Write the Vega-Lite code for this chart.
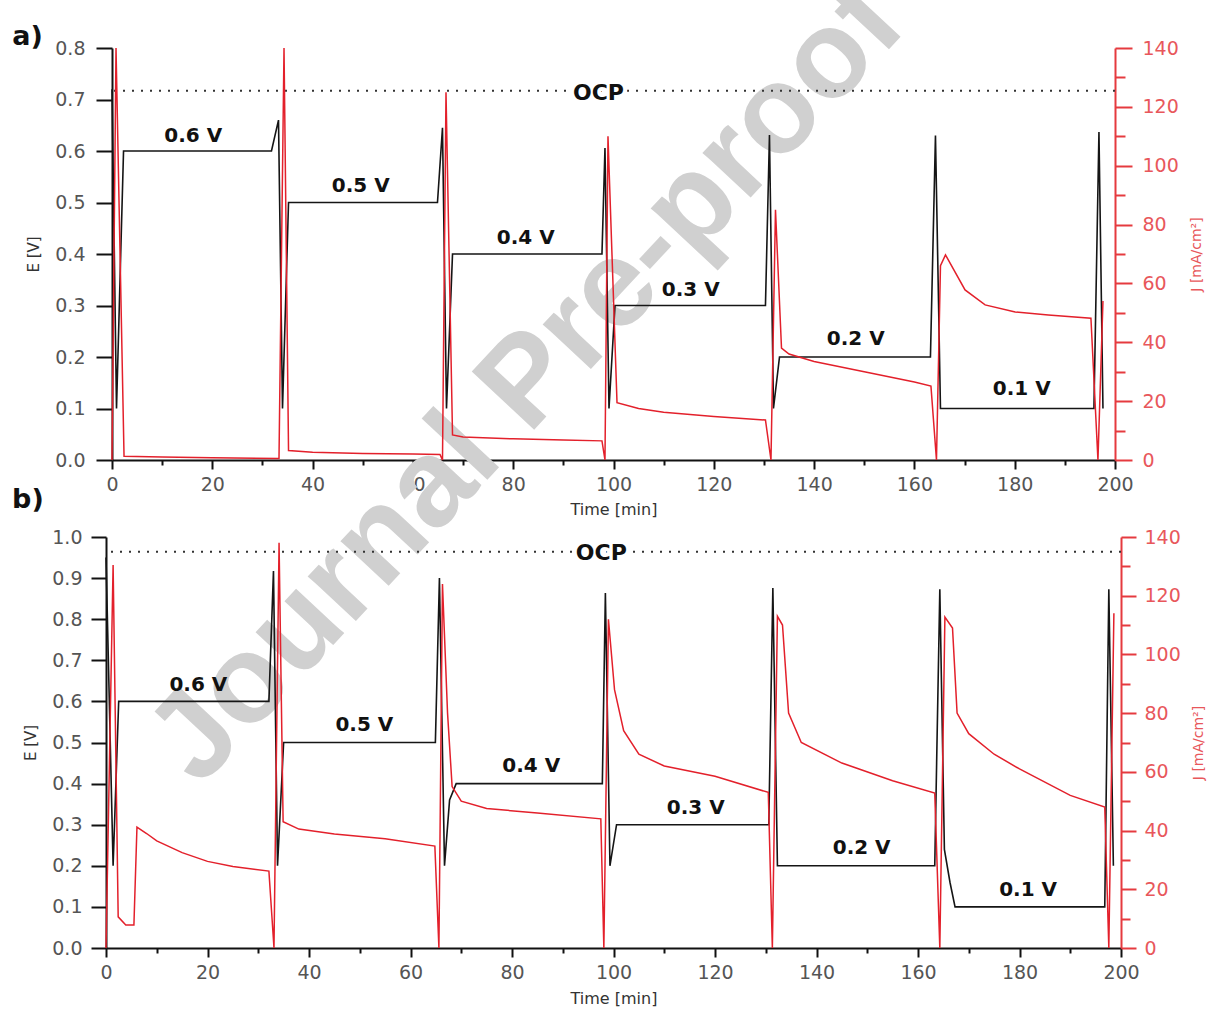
{
  "$schema": "https://vega.github.io/schema/vega-lite/v6.json",
  "background": "white",
  "padding": {"left": 12, "top": -40, "right": 5, "bottom": 5},
  "config": {
    "view": {"stroke": null},
    "axis": {"grid": false, "labelFont": "DejaVu Sans", "titleFont": "DejaVu Sans", "titleFontWeight": "normal", "labelOverlap": false, "labelFlush": false}
  },
  "datasets": {
    "ea": [
      {"t": 0, "E": 0.72}, {"t": 0.9, "E": 0.1}, {"t": 2.3, "E": 0.6}, {"t": 31.8, "E": 0.6}, {"t": 33.2, "E": 0.66}, {"t": 34.0, "E": 0.1}, {"t": 35.2, "E": 0.5},
      {"t": 64.9, "E": 0.5}, {"t": 65.9, "E": 0.645}, {"t": 66.7, "E": 0.1}, {"t": 67.9, "E": 0.4},
      {"t": 97.7, "E": 0.4}, {"t": 98.3, "E": 0.606}, {"t": 99.1, "E": 0.1}, {"t": 100.3, "E": 0.3},
      {"t": 130.3, "E": 0.3}, {"t": 131.1, "E": 0.631}, {"t": 131.9, "E": 0.1}, {"t": 133.1, "E": 0.2},
      {"t": 163.2, "E": 0.2}, {"t": 164.2, "E": 0.63}, {"t": 165.2, "E": 0.1},
      {"t": 195.8, "E": 0.1}, {"t": 196.8, "E": 0.637}, {"t": 197.6, "E": 0.1}
    ],
    "ja": [
      {"t": 0, "J": 0}, {"t": 0.8, "J": 140}, {"t": 2.4, "J": 1.3}, {"t": 10, "J": 1.0}, {"t": 20, "J": 0.8}, {"t": 33.3, "J": 0.5},
      {"t": 34.3, "J": 140}, {"t": 35.2, "J": 3.2}, {"t": 40, "J": 2.6}, {"t": 50, "J": 2.2}, {"t": 60, "J": 2.0}, {"t": 65.4, "J": 1.9},
      {"t": 65.9, "J": 0}, {"t": 66.6, "J": 125}, {"t": 67.9, "J": 8.5}, {"t": 70, "J": 7.8}, {"t": 80, "J": 7.2}, {"t": 90, "J": 6.8}, {"t": 97.7, "J": 6.5},
      {"t": 98.3, "J": 0}, {"t": 98.9, "J": 110}, {"t": 100.7, "J": 19.5}, {"t": 105, "J": 17.5}, {"t": 110, "J": 16.2}, {"t": 120, "J": 14.8}, {"t": 130.3, "J": 13.6},
      {"t": 131.4, "J": 0}, {"t": 132.3, "J": 85}, {"t": 133.5, "J": 38}, {"t": 135, "J": 36}, {"t": 140, "J": 33.5}, {"t": 150, "J": 30}, {"t": 160, "J": 26.5}, {"t": 163.3, "J": 25.1},
      {"t": 164.4, "J": 0}, {"t": 165.2, "J": 66}, {"t": 166.2, "J": 69.7}, {"t": 170.1, "J": 57.8}, {"t": 174.1, "J": 52.7}, {"t": 180.1, "J": 50.3}, {"t": 186.7, "J": 49.3}, {"t": 195.2, "J": 48.2},
      {"t": 196.6, "J": 0}, {"t": 197.6, "J": 54}
    ],
    "eb": [
      {"t": 0, "E": 0.95}, {"t": 1.4, "E": 0.2}, {"t": 2.5, "E": 0.6}, {"t": 32.1, "E": 0.6}, {"t": 33.0, "E": 0.917}, {"t": 33.8, "E": 0.2}, {"t": 35.0, "E": 0.5},
      {"t": 64.9, "E": 0.5}, {"t": 65.7, "E": 0.9}, {"t": 66.7, "E": 0.2}, {"t": 67.7, "E": 0.36}, {"t": 69.0, "E": 0.4},
      {"t": 97.8, "E": 0.4}, {"t": 98.4, "E": 0.864}, {"t": 99.3, "E": 0.2}, {"t": 100.6, "E": 0.3},
      {"t": 130.6, "E": 0.3}, {"t": 131.4, "E": 0.876}, {"t": 132.3, "E": 0.2},
      {"t": 163.3, "E": 0.2}, {"t": 164.3, "E": 0.873}, {"t": 165.2, "E": 0.24}, {"t": 166.3, "E": 0.16}, {"t": 167.3, "E": 0.1},
      {"t": 196.8, "E": 0.1}, {"t": 197.6, "E": 0.873}, {"t": 198.5, "E": 0.2}
    ],
    "jb": [
      {"t": 0, "J": 0}, {"t": 1.4, "J": 130.5}, {"t": 2.4, "J": 10.6}, {"t": 3.9, "J": 7.8}, {"t": 5.5, "J": 7.8}, {"t": 6.1, "J": 41.2}, {"t": 8, "J": 39}, {"t": 10, "J": 36.5}, {"t": 15, "J": 32.5}, {"t": 20, "J": 29.5}, {"t": 25, "J": 27.8}, {"t": 32.1, "J": 26.2},
      {"t": 33.1, "J": 0}, {"t": 34.1, "J": 138}, {"t": 34.9, "J": 43}, {"t": 38, "J": 40.5}, {"t": 45, "J": 38.8}, {"t": 55, "J": 37.2}, {"t": 64.8, "J": 34.7},
      {"t": 65.6, "J": 0}, {"t": 66.3, "J": 124}, {"t": 67.3, "J": 80}, {"t": 68.2, "J": 55}, {"t": 70, "J": 50}, {"t": 75, "J": 47.5}, {"t": 85, "J": 46}, {"t": 97.5, "J": 44},
      {"t": 98.1, "J": 0}, {"t": 99.0, "J": 112}, {"t": 100.2, "J": 88}, {"t": 102, "J": 74}, {"t": 105, "J": 66}, {"t": 110, "J": 62}, {"t": 120, "J": 58.5}, {"t": 130.5, "J": 53},
      {"t": 131.3, "J": 0}, {"t": 132.3, "J": 113}, {"t": 133.3, "J": 110}, {"t": 134.5, "J": 80}, {"t": 137, "J": 70}, {"t": 145, "J": 63}, {"t": 155, "J": 57}, {"t": 163.3, "J": 52.8},
      {"t": 164.3, "J": 0}, {"t": 165.3, "J": 112.7}, {"t": 166.8, "J": 109}, {"t": 167.7, "J": 80}, {"t": 170, "J": 73}, {"t": 175, "J": 66}, {"t": 180, "J": 61}, {"t": 190, "J": 52}, {"t": 196.8, "J": 48},
      {"t": 197.6, "J": 0}, {"t": 198.6, "J": 114}
    ],
    "levels_a": [
      {"t": 16.2, "E": 0.630, "label": "0.6 V"}, {"t": 49.6, "E": 0.532, "label": "0.5 V"}, {"t": 82.5, "E": 0.431, "label": "0.4 V"},
      {"t": 115.4, "E": 0.330, "label": "0.3 V"}, {"t": 148.3, "E": 0.235, "label": "0.2 V"}, {"t": 181.4, "E": 0.137, "label": "0.1 V"}
    ],
    "levels_b": [
      {"t": 18.2, "E": 0.640, "label": "0.6 V"}, {"t": 50.9, "E": 0.543, "label": "0.5 V"}, {"t": 83.8, "E": 0.443, "label": "0.4 V"},
      {"t": 116.2, "E": 0.341, "label": "0.3 V"}, {"t": 148.9, "E": 0.243, "label": "0.2 V"}, {"t": 181.7, "E": 0.141, "label": "0.1 V"}
    ],
    "ocp_a": [{"t": 97.0, "E": 0.717, "label": "OCP"}],
    "ocp_b": [{"t": 97.6, "E": 0.964, "label": "OCP"}],
    "tag_a": [{"t": -19.9, "E": 0.806, "label": "a)"}],
    "tag_b": [{"t": -18.5, "E": 1.071, "label": "b)"}],
    "stamp": [{"t": 82.8, "E": 0.150, "label": "Journal Pre-proof"}]
  },
  "vconcat": [
    {
      "width": 1003,
      "height": 412,
      "layer": [
        {
          "layer": [
            {
              "data": {"name": "stamp"},
              "mark": {"type": "text", "angle": 313, "fontSize": 124, "font": "Liberation Sans", "fontWeight": "bold", "color": "#d0d0d0", "align": "center", "baseline": "middle"},
              "encoding": {
                "x": {"field": "t", "type": "quantitative", "scale": {"domain": [0, 200], "nice": false}, "title": "Time [min]"},
                "y": {"field": "E", "type": "quantitative", "scale": {"domain": [0, 0.8], "nice": false, "zero": false}, "title": "E [V]"},
                "text": {"field": "label"}
              }
            },
            {
              "data": {"name": "ea"},
              "mark": {"type": "line", "color": "#151515", "strokeWidth": 1.6},
              "encoding": {
                "x": {"field": "t", "type": "quantitative", "scale": {"domain": [0, 200], "nice": false}, "title": "Time [min]",
                  "axis": {"values": [0, 10, 20, 30, 40, 50, 60, 70, 80, 90, 100, 110, 120, 130, 140, 150, 160, 170, 180, 190, 200],
                    "labelExpr": "datum.value % 20 === 0 ? datum.label : ''",
                    "tickSize": {"condition": {"test": "datum.value % 20 === 0", "value": 9}, "value": 5},
                    "domainColor": "#111", "domainWidth": 2, "tickColor": "#111", "tickWidth": 2,
                    "labelFontSize": 19, "labelColor": "#555", "labelPadding": 6,
                    "titleFontSize": 16, "titleColor": "#333", "titlePadding": 7}},
                "y": {"field": "E", "type": "quantitative", "scale": {"domain": [0, 0.8], "nice": false, "zero": false}, "title": "E [V]",
                  "axis": {"values": [0, 0.05, 0.1, 0.15, 0.2, 0.25, 0.3, 0.35, 0.4, 0.45, 0.5, 0.55, 0.6, 0.65, 0.7, 0.75, 0.8],
                    "labelExpr": "round(datum.value * 100) % 10 === 0 ? format(datum.value, '.1f') : ''",
                    "tickSize": {"condition": {"test": "round(datum.value * 100) % 10 === 0", "value": 16}, "value": 9},
                    "domainColor": "#111", "domainWidth": 2, "tickColor": "#111", "tickWidth": 2,
                    "labelFontSize": 19, "labelColor": "#555", "labelPadding": 11,
                    "titleFontSize": 15, "titleColor": "#333", "titlePadding": 13}}
              }
            },
            {
              "data": {"name": "ocp_a"},
              "mark": {"type": "rule", "strokeDash": [2, 7], "strokeWidth": 2, "color": "#333"},
              "encoding": {"y": {"field": "E", "type": "quantitative", "scale": {"domain": [0, 0.8], "nice": false, "zero": false}, "title": "E [V]"}}
            },
            {
              "data": {"name": "ocp_a"},
              "mark": {"type": "text", "font": "DejaVu Sans", "fontWeight": "bold", "fontSize": 22, "color": "white", "stroke": "white", "strokeWidth": 8, "dy": 2},
              "encoding": {
                "x": {"field": "t", "type": "quantitative", "scale": {"domain": [0, 200], "nice": false}, "title": "Time [min]"},
                "y": {"field": "E", "type": "quantitative", "scale": {"domain": [0, 0.8], "nice": false, "zero": false}, "title": "E [V]"},
                "text": {"field": "label"}
              }
            },
            {
              "data": {"name": "ocp_a"},
              "mark": {"type": "text", "font": "DejaVu Sans", "fontWeight": "bold", "fontSize": 22, "color": "#111", "dy": 2},
              "encoding": {
                "x": {"field": "t", "type": "quantitative", "scale": {"domain": [0, 200], "nice": false}, "title": "Time [min]"},
                "y": {"field": "E", "type": "quantitative", "scale": {"domain": [0, 0.8], "nice": false, "zero": false}, "title": "E [V]"},
                "text": {"field": "label"}
              }
            },
            {
              "data": {"name": "levels_a"},
              "mark": {"type": "text", "font": "DejaVu Sans", "fontWeight": "bold", "fontSize": 20, "color": "#111"},
              "encoding": {
                "x": {"field": "t", "type": "quantitative", "scale": {"domain": [0, 200], "nice": false}, "title": "Time [min]"},
                "y": {"field": "E", "type": "quantitative", "scale": {"domain": [0, 0.8], "nice": false, "zero": false}, "title": "E [V]"},
                "text": {"field": "label"}
              }
            },
            {
              "data": {"name": "tag_a"},
              "mark": {"type": "text", "font": "DejaVu Sans", "fontWeight": "bold", "fontSize": 27, "color": "#111", "align": "left", "baseline": "alphabetic"},
              "encoding": {
                "x": {"field": "t", "type": "quantitative", "scale": {"domain": [0, 200], "nice": false}, "title": "Time [min]"},
                "y": {"field": "E", "type": "quantitative", "scale": {"domain": [0, 0.8], "nice": false, "zero": false}, "title": "E [V]"},
                "text": {"field": "label"}
              }
            }
          ]
        },
        {
          "data": {"name": "ja"},
          "mark": {"type": "line", "color": "#e3202b", "strokeWidth": 1.5},
          "encoding": {
            "x": {"field": "t", "type": "quantitative", "scale": {"domain": [0, 200], "nice": false}, "title": "Time [min]"},
            "y": {"field": "J", "type": "quantitative", "scale": {"domain": [0, 140], "nice": false}, "title": "J [mA/cm²]",
              "axis": {"orient": "right", "values": [0, 10, 20, 30, 40, 50, 60, 70, 80, 90, 100, 110, 120, 130, 140],
                "labelExpr": "datum.value % 20 === 0 ? datum.label : ''",
                "tickSize": {"condition": {"test": "datum.value % 20 === 0", "value": 17}, "value": 10},
                "domainColor": "#e53a3f", "domainWidth": 2, "tickColor": "#e53a3f", "tickWidth": 2,
                "labelFontSize": 19, "labelColor": "#e8575b", "labelPadding": 10,
                "titleFontSize": 14, "titleColor": "#e8575b", "titleAngle": 270, "titleBaseline": "top", "titlePadding": 11}}
          }
        }
      ],
      "resolve": {"scale": {"y": "independent"}}
    },
    {
      "width": 1015,
      "height": 411,
      "layer": [
        {
          "layer": [
            {
              "data": {"name": "eb"},
              "mark": {"type": "line", "color": "#151515", "strokeWidth": 1.6},
              "encoding": {
                "x": {"field": "t", "type": "quantitative", "scale": {"domain": [0, 200], "nice": false}, "title": "Time [min]",
                  "axis": {"values": [0, 10, 20, 30, 40, 50, 60, 70, 80, 90, 100, 110, 120, 130, 140, 150, 160, 170, 180, 190, 200],
                    "labelExpr": "datum.value % 20 === 0 ? datum.label : ''",
                    "tickSize": {"condition": {"test": "datum.value % 20 === 0", "value": 9}, "value": 5},
                    "domainColor": "#111", "domainWidth": 2, "tickColor": "#111", "tickWidth": 2,
                    "labelFontSize": 19, "labelColor": "#555", "labelPadding": 6,
                    "titleFontSize": 16, "titleColor": "#333", "titlePadding": 8}},
                "y": {"field": "E", "type": "quantitative", "scale": {"domain": [0, 1], "nice": false, "zero": false}, "title": "E [V]",
                  "axis": {"values": [0, 0.05, 0.1, 0.15, 0.2, 0.25, 0.3, 0.35, 0.4, 0.45, 0.5, 0.55, 0.6, 0.65, 0.7, 0.75, 0.8, 0.85, 0.9, 0.95, 1.0],
                    "labelExpr": "round(datum.value * 100) % 10 === 0 ? format(datum.value, '.1f') : ''",
                    "tickSize": {"condition": {"test": "round(datum.value * 100) % 10 === 0", "value": 15}, "value": 9},
                    "domainColor": "#111", "domainWidth": 2, "tickColor": "#111", "tickWidth": 2,
                    "labelFontSize": 19, "labelColor": "#555", "labelPadding": 9,
                    "titleFontSize": 15, "titleColor": "#333", "titlePadding": 13}}
              }
            },
            {
              "data": {"name": "ocp_b"},
              "mark": {"type": "rule", "strokeDash": [2, 7], "strokeWidth": 2, "color": "#333"},
              "encoding": {"y": {"field": "E", "type": "quantitative", "scale": {"domain": [0, 1], "nice": false, "zero": false}, "title": "E [V]"}}
            },
            {
              "data": {"name": "ocp_b"},
              "mark": {"type": "text", "font": "DejaVu Sans", "fontWeight": "bold", "fontSize": 22, "color": "white", "stroke": "white", "strokeWidth": 8, "dy": 1},
              "encoding": {
                "x": {"field": "t", "type": "quantitative", "scale": {"domain": [0, 200], "nice": false}, "title": "Time [min]"},
                "y": {"field": "E", "type": "quantitative", "scale": {"domain": [0, 1], "nice": false, "zero": false}, "title": "E [V]"},
                "text": {"field": "label"}
              }
            },
            {
              "data": {"name": "ocp_b"},
              "mark": {"type": "text", "font": "DejaVu Sans", "fontWeight": "bold", "fontSize": 22, "color": "#111", "dy": 1},
              "encoding": {
                "x": {"field": "t", "type": "quantitative", "scale": {"domain": [0, 200], "nice": false}, "title": "Time [min]"},
                "y": {"field": "E", "type": "quantitative", "scale": {"domain": [0, 1], "nice": false, "zero": false}, "title": "E [V]"},
                "text": {"field": "label"}
              }
            },
            {
              "data": {"name": "levels_b"},
              "mark": {"type": "text", "font": "DejaVu Sans", "fontWeight": "bold", "fontSize": 20, "color": "#111"},
              "encoding": {
                "x": {"field": "t", "type": "quantitative", "scale": {"domain": [0, 200], "nice": false}, "title": "Time [min]"},
                "y": {"field": "E", "type": "quantitative", "scale": {"domain": [0, 1], "nice": false, "zero": false}, "title": "E [V]"},
                "text": {"field": "label"}
              }
            },
            {
              "data": {"name": "tag_b"},
              "mark": {"type": "text", "font": "DejaVu Sans", "fontWeight": "bold", "fontSize": 27, "color": "#111", "align": "left", "baseline": "alphabetic"},
              "encoding": {
                "x": {"field": "t", "type": "quantitative", "scale": {"domain": [0, 200], "nice": false}, "title": "Time [min]"},
                "y": {"field": "E", "type": "quantitative", "scale": {"domain": [0, 1], "nice": false, "zero": false}, "title": "E [V]"},
                "text": {"field": "label"}
              }
            }
          ]
        },
        {
          "data": {"name": "jb"},
          "mark": {"type": "line", "color": "#e3202b", "strokeWidth": 1.5},
          "encoding": {
            "x": {"field": "t", "type": "quantitative", "scale": {"domain": [0, 200], "nice": false}, "title": "Time [min]"},
            "y": {"field": "J", "type": "quantitative", "scale": {"domain": [0, 140], "nice": false}, "title": "J [mA/cm²]",
              "axis": {"orient": "right", "values": [0, 10, 20, 30, 40, 50, 60, 70, 80, 90, 100, 110, 120, 130, 140],
                "labelExpr": "datum.value % 20 === 0 ? datum.label : ''",
                "tickSize": {"condition": {"test": "datum.value % 20 === 0", "value": 15}, "value": 9},
                "domainColor": "#e53a3f", "domainWidth": 2, "tickColor": "#e53a3f", "tickWidth": 2,
                "labelFontSize": 19, "labelColor": "#e8575b", "labelPadding": 8,
                "titleFontSize": 14, "titleColor": "#e8575b", "titleAngle": 270, "titleBaseline": "top", "titlePadding": 11}}
          }
        }
      ],
      "resolve": {"scale": {"y": "independent"}}
    }
  ],
  "spacing": 77,
  "bounds": "flush",
  "center": true
}
